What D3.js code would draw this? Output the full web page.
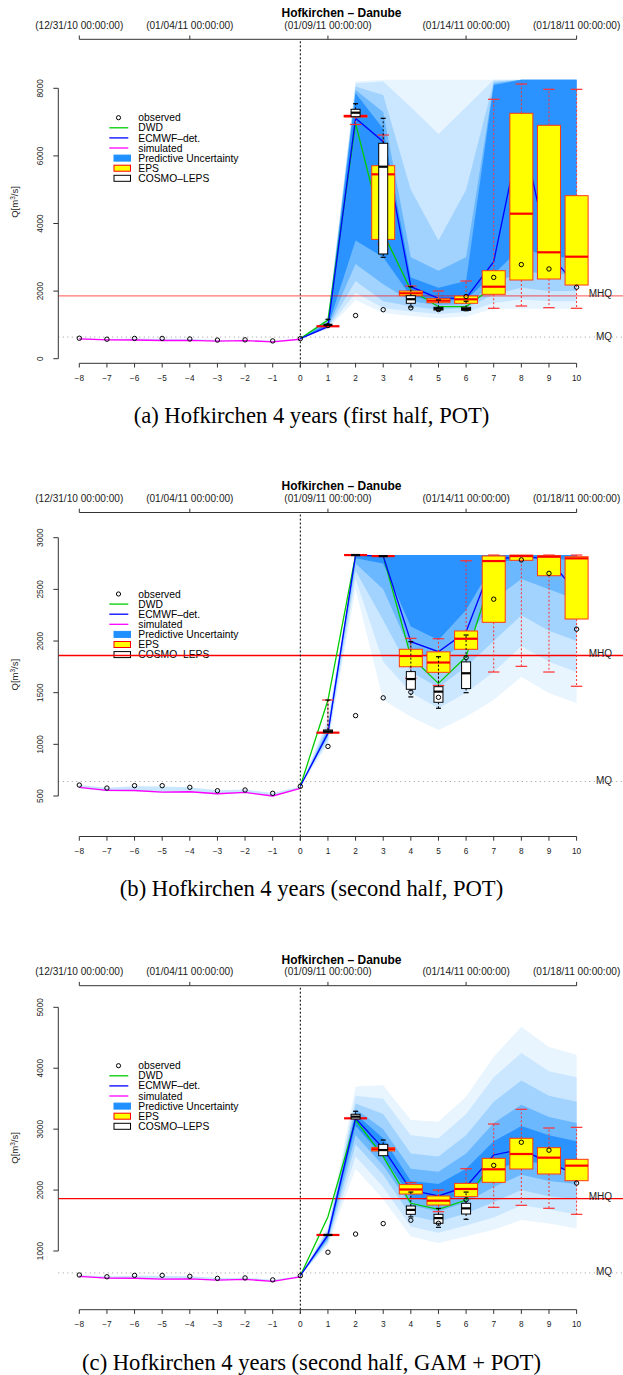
<!DOCTYPE html>
<html><head><meta charset="utf-8">
<script src="https://cdn.jsdelivr.net/npm/d3@7"></script>
<style>body{margin:0;background:#fff}svg{display:block}</style>
</head><body>
<svg id="c" width="623" height="1375"></svg>
<script>
// ---------------- data ----------------
const leadDays = [-8,-7,-6,-5,-4,-3,-2,-1,0,1,2,3,4,5,6,7,8,9,10];
const hindDays = [-8,-7,-6,-5,-4,-3,-2,-1,0];
const foreDays = [0,1,2,3,4,5,6,7,8,9,10];
const dwdDays = [0,1,2,3,4,5,6,7];
const epsDays = [1,2,3,4,5,6,7,8,9,10];
const cosmoDays = [1,2,3,4,5,6];
const dateTickDays = [-8,-4,1,6,10];
const dateTickLabels = ["(12/31/10 00:00:00)","(01/04/11 00:00:00)","(01/09/11 00:00:00)","(01/14/11 00:00:00)","(01/18/11 00:00:00)"];
const stationTitle = "Hofkirchen \u2013 Danube";
const captions = ["(a) Hofkirchen 4 years (first half, POT)","(b) Hofkirchen 4 years (second half, POT)","(c) Hofkirchen 4 years (second half, GAM + POT)"];
const legendLabels = ["observed","DWD","ECMWF\u2013det.","simulated","Predictive Uncertainty","EPS","COSMO\u2013LEPS"];
const MHQ = 1860, MQ = 640;

const observed = [606,577,600,600,584,551,558,526,594,980,1278,1450,1505,1455,1840,2405,2785,2655,2115];
const simulated = [584,555,553,538,541,522,535,500,575];
const hindLo = [576,547,546,531,533,514,528,492,568];
const hindHi = [606,580,594,592,585,556,562,530,592];

// panel (a)
const p1Ticks = [0,2000,4000,6000,8000];
const p1Ecmwf = [594,947,7112,6420,2130,1787,1790,2871,6800,3100,2170];
const p1Dwd = [594,1145,6964,3719,2033,1539,1540,2130];
const p1EpsLo  = [960,6930,3400,1864,1657,1639,1491,1559,1509,1491];
const p1EpsQ1  = [960,7150,3530,1864,1657,1639,1905,2328,2358,2180];
const p1EpsMed = [960,7180,5455,1935,1716,1757,2130,4290,3148,3018];
const p1EpsQ3  = [960,7200,5710,2003,1775,1855,2604,7260,6905,4823];
const p1EpsHi  = [960,7200,6618,2150,2003,2299,7675,8127,7970,7970];
const p1CosLo  = [1000,7160,3000,1530,1420,1420];
const p1CosQ1  = [1000,7160,3098,1639,1441,1432];
const p1CosMed = [1000,7278,5680,1760,1480,1470];
const p1CosQ3  = [1000,7379,6373,1864,1521,1521];
const p1CosHi  = [1166,7544,7112,2130,1737,1700];
const p1BandLo = [
 [594,880,1740,1350,1260,1200,1250,1480,1480,1480,1480],
 [594,900,1950,1500,1400,1320,1380,1650,1750,1700,1700],
 [594,920,2300,1700,1550,1450,1500,1900,2100,2000,2000],
 [594,940,2800,2200,1700,1580,1620,2200,2600,2500,2500],
 [594,960,3500,3000,1850,1700,1750,2500,3300,3000,3000]];
const p1BandHi = [
 [594,1250,8200,8250,8250,8250,8250,8250,8250,8250,8250],
 [594,1200,8150,8200,7450,6650,7450,8250,8250,8250,8250],
 [594,1150,8050,7800,5000,3500,5000,8200,8250,8250,8250],
 [594,1100,7950,7300,3000,2600,3000,8150,8250,8250,8250],
 [594,1050,7850,6800,2400,2100,2300,8100,8250,8250,8250]];

// panel (b)
const p2Ticks = [500,1000,1500,2000,2500,3000];
const p2Ecmwf = [594,1107,2832,2822,1994,1897,2090,2787,2822,2790,2470];
const p2Dwd = [594,1429,2832,2822,1848,1590,1848,2684];
const p2EpsLo  = [1113,2832,2822,1640,1570,1920,1700,1755,1700,1562];
const p2EpsQ1  = [1113,2832,2822,1751,1697,1920,2181,2781,2632,2213];
const p2EpsMed = [1113,2832,2822,1855,1792,2022,2774,2822,2816,2800];
const p2EpsQ3  = [1113,2832,2822,1920,1895,2097,2823,2832,2826,2816];
const p2EpsHi  = [1429,2832,2822,2026,2022,2777,2832,2832,2832,2832];
const p2CosLo  = [1113,2832,2822,1459,1349,1500];
const p2CosQ1  = [1113,2832,2822,1533,1407,1540];
const p2CosMed = [1126,2832,2822,1632,1510,1688];
const p2CosQ3  = [1139,2832,2822,1704,1558,1798];
const p2CosHi  = [1429,2832,2822,1994,1848,2058];
const p2BandLo = [
 [594,1000,2500,1430,1267,1139,1267,1429,1655,1494,1400],
 [594,1030,2600,1800,1500,1350,1500,1700,1950,1800,1700],
 [594,1060,2680,2200,1700,1550,1750,2000,2250,2100,2000],
 [594,1080,2750,2500,1900,1800,2000,2400,2600,2500,2400],
 [594,1095,2800,2750,2140,2010,2300,2750,2800,2800,2780]];
const p2BandHi = [
 [594,1250,2832,2832,2832,2832,2832,2832,2832,2832,2832],
 [594,1220,2832,2832,2832,2832,2832,2832,2832,2832,2832],
 [594,1180,2832,2832,2832,2832,2832,2832,2832,2832,2832],
 [594,1150,2832,2832,2832,2832,2832,2832,2832,2832,2832],
 [594,1130,2832,2832,2832,2832,2832,2832,2832,2832,2832]];

// panel (c)
const p3Ticks = [1000,2000,3000,4000,5000];
const p3Ecmwf = [594,1263,3178,2686,2001,1903,2055,2576,2669,2450,2250];
const p3Dwd = [594,1563,3151,2548,1783,1684,1837,2499];
const p3EpsLo  = [1263,3178,2642,1935,1645,1892,1717,1750,1701,1602];
const p3EpsQ1  = [1263,3178,2642,1935,1755,1892,2127,2346,2264,2154];
const p3EpsMed = [1263,3178,2670,2010,1826,2018,2341,2592,2532,2401];
const p3EpsQ3  = [1263,3178,2697,2090,1903,2110,2521,2850,2696,2505];
const p3EpsHi  = [1263,3178,2725,2121,2001,2351,3084,3326,3019,3030];
const p3CosLo  = [1263,3167,2564,1560,1389,1520];
const p3CosQ1  = [1263,3167,2564,1602,1455,1607];
const p3CosMed = [1263,3205,2657,1675,1540,1700];
const p3CosQ3  = [1263,3244,2751,1739,1602,1783];
const p3CosHi  = [1263,3293,2822,1967,1700,1967];
const p3BandLo = [
 [594,1100,2350,1850,1240,1130,1240,1350,1510,1450,1370],
 [594,1130,2550,2050,1400,1300,1420,1550,1750,1680,1600],
 [594,1160,2750,2250,1580,1480,1620,1800,2000,1900,1850],
 [594,1190,2900,2400,1750,1650,1800,2050,2250,2150,2100],
 [594,1220,3050,2550,1880,1800,1950,2300,2500,2400,2300]];
const p3BandHi = [
 [594,1400,3700,3720,3150,3120,3530,4190,4680,4350,4220],
 [594,1370,3550,3500,2900,2850,3250,3850,4250,3950,3850],
 [594,1340,3420,3250,2600,2550,2900,3450,3800,3550,3450],
 [594,1310,3330,3000,2350,2300,2600,3100,3400,3200,3100],
 [594,1290,3250,2850,2150,2100,2350,2800,3050,2900,2800]];

// ---------------- styles / layout ----------------
const bandColors = ["#E8F5FF","#CBE7FF","#A2D3FF","#6BB8FF","#2A93FF"];
const FONT = "'Liberation Sans', Arial, Helvetica, sans-serif";
const panels = [
 {off:0, ticks:p1Ticks, dom:[0,8000], rng:[358.7,88.3], ecmwf:p1Ecmwf, dwd:p1Dwd,
  eps:[p1EpsLo,p1EpsQ1,p1EpsMed,p1EpsQ3,p1EpsHi], cos:[p1CosLo,p1CosQ1,p1CosMed,p1CosQ3,p1CosHi],
  bandLo:p1BandLo, bandHi:p1BandHi, mhqColor:"rgba(255,0,0,0.55)", legY:117.7, yLabY:202},
 {off:473.2, ticks:p2Ticks, dom:[500,3000], rng:[322.8,64.5], ecmwf:p2Ecmwf, dwd:p2Dwd,
  eps:[p2EpsLo,p2EpsQ1,p2EpsMed,p2EpsQ3,p2EpsHi], cos:[p2CosLo,p2CosQ1,p2CosMed,p2CosQ3,p2CosHi],
  bandLo:p2BandLo, bandHi:p2BandHi, mhqColor:"#FF0000", legY:120.8, yLabY:201.5},
 {off:946.4, ticks:p3Ticks, dom:[1000,5000], rng:[304.6,60.9], ecmwf:p3Ecmwf, dwd:p3Dwd,
  eps:[p3EpsLo,p3EpsQ1,p3EpsMed,p3EpsQ3,p3EpsHi], cos:[p3CosLo,p3CosQ1,p3CosMed,p3CosQ3,p3CosHi],
  bandLo:p3BandLo, bandHi:p3BandHi, mhqColor:"#FF0000", legY:119.3, yLabY:201.5}
];

const svg = d3.select("#c");
const x = d3.scaleLinear().domain([-8,10]).range([79.3,576.6]);
const TOP = 39.3, BOT = 363.3, AXX = 58.3;

panels.forEach((p, pi) => {
  const g = svg.append("g").attr("transform", `translate(0,${p.off})`);
  const y = d3.scaleLinear().domain(p.dom).range(p.rng);

  // predictive uncertainty bands
  p.bandLo.forEach((lo, k) => {
    const hi = p.bandHi[k];
    const area = d3.area().x((d,i)=>x(foreDays[i])).y0((d,i)=>y(lo[i])).y1((d,i)=>y(hi[i]));
    g.append("path").attr("d", area(lo)).attr("fill", bandColors[k]).attr("stroke","none");
  });
  const harea = d3.area().x((d,i)=>x(hindDays[i])).y0((d,i)=>y(hindLo[i])).y1((d,i)=>y(hindHi[i]));
  g.append("path").attr("d", harea(hindLo)).attr("fill","#C9E7FF");

  // legend
  const lg = g.append("g").attr("font-family", FONT).attr("font-size", 10.3);
  legendLabels.forEach((lab, i) => {
    const ry = p.legY + i*10.1;
    lg.append("text").attr("x",138.3).attr("y",ry+3.6).text(lab).attr("fill","#000");
    if (i===0) lg.append("circle").attr("cx",118.5).attr("cy",ry).attr("r",2.1).attr("fill","none").attr("stroke","#000").attr("stroke-width",1);
    else if (i<4) lg.append("line").attr("x1",109.3).attr("x2",128.3).attr("y1",ry).attr("y2",ry)
        .attr("stroke", ["","#00CC00","#0000FF","#FF00FF"][i]).attr("stroke-width",1.3);
    else {
      const f = ["#1E90FF","#FFFF00","#FFFFFF"][i-4], s = ["#1E90FF","#FF0000","#000000"][i-4];
      lg.append("rect").attr("x",114).attr("y",ry-3).attr("width",16.5).attr("height",6)
        .attr("fill",f).attr("stroke",s).attr("stroke-width",1);
    }
  });

  // MQ / MHQ reference lines
  g.append("line").attr("x1",AXX).attr("x2",623).attr("y1",y(MQ)).attr("y2",y(MQ))
    .attr("stroke","#999").attr("stroke-width",1).attr("stroke-dasharray","1,3.5");
  g.append("line").attr("x1",AXX).attr("x2",623).attr("y1",y(MHQ)).attr("y2",y(MHQ))
    .attr("stroke",p.mhqColor).attr("stroke-width",1.3);
  g.append("text").attr("x",612).attr("y",y(MHQ)+1.5).attr("text-anchor","end")
    .attr("font-family",FONT).attr("font-size",10).attr("fill","#222").text("MHQ");
  g.append("text").attr("x",612).attr("y",y(MQ)+2.5).attr("text-anchor","end")
    .attr("font-family",FONT).attr("font-size",10).attr("fill","#222").text("MQ");

  // forecast start line
  g.append("line").attr("x1",x(0)).attr("x2",x(0)).attr("y1",TOP+2).attr("y2",BOT+6)
    .attr("stroke","#000").attr("stroke-width",1).attr("stroke-dasharray","2,2");

  // lines
  const line = (days) => d3.line().x((d,i)=>x(days[i])).y(d=>y(d));
  g.append("path").attr("d", line(hindDays)(simulated)).attr("fill","none").attr("stroke","#FF00FF").attr("stroke-width",1.3);
  g.append("path").attr("d", line(dwdDays)(p.dwd)).attr("fill","none").attr("stroke","#00CC00").attr("stroke-width",1.3);
  g.append("path").attr("d", line(foreDays)(p.ecmwf)).attr("fill","none").attr("stroke","#0000FF").attr("stroke-width",1.3);

  // box plots
  function boxes(days, st, o) {
    const [lo,q1,md,q3,hi] = st;
    days.forEach((dv, i) => {
      const cx = x(dv), hw = o.w/2, cw = o.cap/2;
      if (hi[i] > q3[i]) {
        g.append("line").attr("x1",cx).attr("x2",cx).attr("y1",y(q3[i])).attr("y2",y(hi[i]))
          .attr("stroke",o.wk).attr("stroke-width",1).attr("stroke-dasharray","2,2");
        g.append("line").attr("x1",cx-cw).attr("x2",cx+cw).attr("y1",y(hi[i])).attr("y2",y(hi[i]))
          .attr("stroke",o.wk).attr("stroke-width",1.2);
      }
      if (lo[i] < q1[i]) {
        g.append("line").attr("x1",cx).attr("x2",cx).attr("y1",y(q1[i])).attr("y2",y(lo[i]))
          .attr("stroke",o.wk).attr("stroke-width",1).attr("stroke-dasharray","2,2");
        g.append("line").attr("x1",cx-cw).attr("x2",cx+cw).attr("y1",y(lo[i])).attr("y2",y(lo[i]))
          .attr("stroke",o.wk).attr("stroke-width",1.2);
      }
      g.append("rect").attr("x",cx-hw).attr("width",o.w)
        .attr("y",y(q3[i])).attr("height",Math.max(0,y(q1[i])-y(q3[i])))
        .attr("fill",o.fill).attr("stroke",o.stroke).attr("stroke-width",1);
      g.append("line").attr("x1",cx-hw).attr("x2",cx+hw).attr("y1",y(md[i])).attr("y2",y(md[i]))
        .attr("stroke",o.med).attr("stroke-width",2.2);
    });
  }
  boxes(epsDays, p.eps, {w:23, cap:11.5, fill:"#FFFF00", stroke:"#FF3A10", med:"#FF0000", wk:"#FF3030"});
  boxes(cosmoDays, p.cos, {w:9, cap:5, fill:"#FFFFFF", stroke:"#000", med:"#000", wk:"#000"});

  // observed
  g.selectAll("circle.obs").data(observed).enter().append("circle").attr("class","obs")
    .attr("cx",(d,i)=>x(leadDays[i])).attr("cy",d=>y(d)).attr("r",2.2)
    .attr("fill","none").attr("stroke","#000").attr("stroke-width",1);

  // y axis
  const ya = g.append("g").attr("font-family",FONT).attr("font-size",8.3).attr("fill","#222");
  ya.append("line").attr("x1",AXX).attr("x2",AXX).attr("y1",y(p.ticks[0])).attr("y2",y(p.ticks[p.ticks.length-1])).attr("stroke","#333");
  p.ticks.forEach(t => {
    ya.append("line").attr("x1",AXX-5).attr("x2",AXX).attr("y1",y(t)).attr("y2",y(t)).attr("stroke","#333");
    ya.append("text").attr("transform",`translate(42.7,${y(t)}) rotate(-90)`).attr("text-anchor","middle").text(t);
  });
  const yl = g.append("text").attr("transform",`translate(18.3,${p.yLabY}) rotate(-90)`).attr("text-anchor","middle")
    .attr("font-family",FONT).attr("font-size",9.5).attr("fill","#222");
  yl.append("tspan").text("Q[m");
  yl.append("tspan").attr("dy",-3.5).attr("font-size",6.5).text("3");
  yl.append("tspan").attr("dy",3.5).text("/s]");

  // bottom axis
  const xa = g.append("g").attr("font-family",FONT).attr("font-size",8.3).attr("fill","#222");
  xa.append("line").attr("x1",x(-8)).attr("x2",x(10)).attr("y1",BOT).attr("y2",BOT).attr("stroke","#333");
  leadDays.forEach(d => {
    xa.append("line").attr("x1",x(d)).attr("x2",x(d)).attr("y1",BOT).attr("y2",BOT+4.2).attr("stroke","#333");
    xa.append("text").attr("x",x(d)).attr("y",381).attr("text-anchor","middle").text(d < 0 ? "\u2212"+(-d) : d);
  });

  // top date axis
  const ta = g.append("g").attr("font-family",FONT).attr("font-size",10.1).attr("fill","#222");
  ta.append("line").attr("x1",x(-8)).attr("x2",x(10)).attr("y1",TOP).attr("y2",TOP).attr("stroke","#333");
  dateTickDays.forEach((d,i) => {
    ta.append("line").attr("x1",x(d)).attr("x2",x(d)).attr("y1",TOP).attr("y2",TOP-3.8).attr("stroke","#333");
    ta.append("text").attr("x",x(d)).attr("y",29).attr("text-anchor","middle").text(dateTickLabels[i]);
  });
  g.append("text").attr("x",341.5).attr("y",17.2).attr("text-anchor","middle").attr("font-family",FONT)
    .attr("font-weight","bold").attr("font-size",12).attr("fill","#000").text(stationTitle);

  // caption
  g.append("text").attr("x",311.5).attr("y",423.3).attr("text-anchor","middle")
    .attr("font-family","'Liberation Serif','Times New Roman',serif").attr("font-size",22.6).attr("fill","#000").text(captions[pi]);
});
</script>
</body></html>
